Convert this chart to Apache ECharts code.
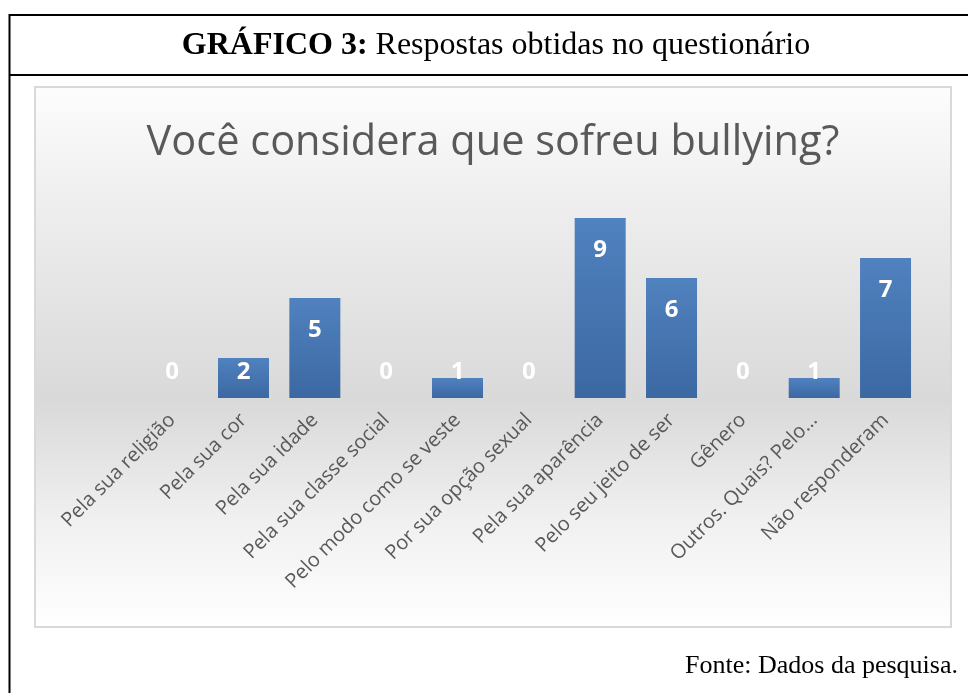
<!DOCTYPE html>
<html>
<head>
<meta charset="utf-8">
<script src="https://cdn.jsdelivr.net/npm/echarts@6/dist/echarts.min.js"></script>
<style>html,body{margin:0;padding:0;background:#fff;}#c{width:968px;height:693px;}</style>
</head>
<body>
<div id="c"></div>
<script>
var categories = ["Pela sua religião","Pela sua cor","Pela sua idade","Pela sua classe social","Pelo modo como se veste","Por sua opção sexual","Pela sua aparência","Pelo seu jeito de ser","Gênero","Outros. Quais? Pelo…","Não responderam"];
var values = [0,2,5,0,1,0,9,6,0,1,7];
var headerBold = "GRÁFICO 3:";
var headerText = " Respostas obtidas no questionário";
var chartTitle = "Você considera que sofreu bullying?";
var source = "Fonte: Dados da pesquisa.";

var chart = echarts.init(document.getElementById('c'), null, {renderer:'canvas'});
var barGrad = new echarts.graphic.LinearGradient(0,0,0,1,[{offset:0,color:'#5082bf'},{offset:1,color:'#3c68a2'}]);
var data = values.map(function(v){
  var big = v >= 3;
  return {value:v, label:{position: big ? 'insideTop' : 'insideBottom', distance: big ? 20 : 14}};
});
var option = {
  backgroundColor:'#ffffff',
  animation:false,
  graphic:[
    {type:'rect', z:-10, shape:{x:35,y:87,width:916,height:540},
     style:{fill:new echarts.graphic.LinearGradient(0,0,0,1,[
       {offset:0,color:'#fdfdfd'},{offset:0.2,color:'#efefef'},{offset:0.58,color:'#d9d9d9'},{offset:0.8,color:'#f0f0f0'},{offset:1,color:'#ffffff'}]),
       stroke:'#d9d9d9', lineWidth:2}},
    {type:'line', shape:{x1:9,y1:15,x2:968,y2:15}, style:{stroke:'#000',lineWidth:2}},
    {type:'line', shape:{x1:9,y1:75,x2:968,y2:75}, style:{stroke:'#000',lineWidth:2}},
    {type:'line', shape:{x1:9.5,y1:14,x2:9.5,y2:693}, style:{stroke:'#000',lineWidth:2}},
    {type:'text', x:496, y:46, style:{
      text:'{b|'+headerBold+'}{n|'+headerText+'}', align:'center', verticalAlign:'middle',
      rich:{b:{fontFamily:'Liberation Serif',fontWeight:'bold',fontSize:32,fill:'#000'},
            n:{fontFamily:'Liberation Serif',fontSize:32,fill:'#000'}}}},
    {type:'text', x:958, y:666, style:{text:source, align:'right', verticalAlign:'middle',
      fontFamily:'Liberation Serif', fontSize:26, fill:'#000'}},
    {type:'text', x:493, y:143, style:{text:chartTitle, align:'center', verticalAlign:'middle',
      fontFamily:'Open Sans', fontSize:41.5, fill:'#595959'}}
  ],
  grid:{left:136.5, right:46.8, top:198, bottom:295},
  xAxis:{type:'category', data:categories,
    axisLine:{show:false}, axisTick:{show:false},
    axisLabel:{rotate:45, interval:0, margin:19, color:'#595959', fontFamily:'Open Sans', fontSize:20}},
  yAxis:{type:'value', min:0, max:10, show:false, splitLine:{show:false}},
  series:[{type:'bar', data:data, barCategoryGap:'28.5%',
    itemStyle:{color:barGrad},
    label:{show:true, color:'#ffffff', fontFamily:'Open Sans', fontWeight:'bold', fontSize:24}}]
};
chart.setOption(option);
</script>
</body>
</html>
